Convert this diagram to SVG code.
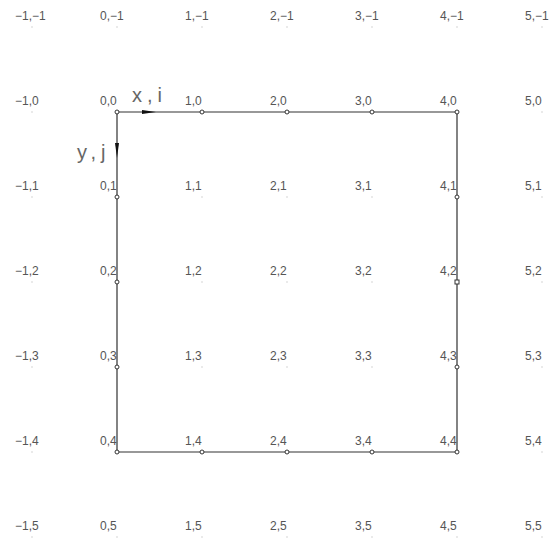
<svg xmlns="http://www.w3.org/2000/svg" width="550" height="540" viewBox="0 0 550 540">
<style>
.l{font-family:"Liberation Sans",Arial,sans-serif;font-size:12px;fill:#555}
.ax{font-family:"Liberation Sans",Arial,sans-serif;font-size:20px;fill:#666;letter-spacing:5px}
.d{fill:#aaa}
.c{fill:#fff;stroke:#333;stroke-width:1}
.e{fill:none;stroke:#333;stroke-width:1.2}
</style>
<defs>
<rect id="dot" class="d" x="-0.5" y="-0.5" width="1" height="1"/>
<circle id="cir" class="c" r="2"/>
</defs>
<rect width="550" height="540" fill="#fff"/>
<g id="connectors">
<path class="e" d="M117,112 H457 V452 H117 Z"/>
<path d="M142,110 L156,112 L142,114 Z" fill="#111"/>
<path d="M115,143 L117,158 L119,143 Z" fill="#111"/>
</g>
<text class="ax" x="132" y="102">x,i</text>
<text class="ax" x="77" y="159">y,j</text>
<g id="p-1_-1"><use href="#dot" x="32" y="27"/><text class="l" x="15" y="20">−1,−1</text></g>
<g id="p0_-1"><use href="#dot" x="117" y="27"/><text class="l" x="100" y="20">0,−1</text></g>
<g id="p1_-1"><use href="#dot" x="202" y="27"/><text class="l" x="185" y="20">1,−1</text></g>
<g id="p2_-1"><use href="#dot" x="287" y="27"/><text class="l" x="270" y="20">2,−1</text></g>
<g id="p3_-1"><use href="#dot" x="372" y="27"/><text class="l" x="355" y="20">3,−1</text></g>
<g id="p4_-1"><use href="#dot" x="457" y="27"/><text class="l" x="440" y="20">4,−1</text></g>
<g id="p5_-1"><use href="#dot" x="542" y="27"/><text class="l" x="525" y="20">5,−1</text></g>
<g id="p-1_0"><use href="#dot" x="32" y="112"/><text class="l" x="15" y="105">−1,0</text></g>
<g id="p0_0"><use href="#cir" x="117" y="112"/><text class="l" x="100" y="105">0,0</text></g>
<g id="p1_0"><use href="#cir" x="202" y="112"/><text class="l" x="185" y="105">1,0</text></g>
<g id="p2_0"><use href="#cir" x="287" y="112"/><text class="l" x="270" y="105">2,0</text></g>
<g id="p3_0"><use href="#cir" x="372" y="112"/><text class="l" x="355" y="105">3,0</text></g>
<g id="p4_0"><use href="#cir" x="457" y="112"/><text class="l" x="440" y="105">4,0</text></g>
<g id="p5_0"><use href="#dot" x="542" y="112"/><text class="l" x="525" y="105">5,0</text></g>
<g id="p-1_1"><use href="#dot" x="32" y="197"/><text class="l" x="15" y="190">−1,1</text></g>
<g id="p0_1"><use href="#cir" x="117" y="197"/><text class="l" x="100" y="190">0,1</text></g>
<g id="p1_1"><use href="#dot" x="202" y="197"/><text class="l" x="185" y="190">1,1</text></g>
<g id="p2_1"><use href="#dot" x="287" y="197"/><text class="l" x="270" y="190">2,1</text></g>
<g id="p3_1"><use href="#dot" x="372" y="197"/><text class="l" x="355" y="190">3,1</text></g>
<g id="p4_1"><use href="#cir" x="457" y="197"/><text class="l" x="440" y="190">4,1</text></g>
<g id="p5_1"><use href="#dot" x="542" y="197"/><text class="l" x="525" y="190">5,1</text></g>
<g id="p-1_2"><use href="#dot" x="32" y="282"/><text class="l" x="15" y="275">−1,2</text></g>
<g id="p0_2"><use href="#cir" x="117" y="282"/><text class="l" x="100" y="275">0,2</text></g>
<g id="p1_2"><use href="#dot" x="202" y="282"/><text class="l" x="185" y="275">1,2</text></g>
<g id="p2_2"><use href="#dot" x="287" y="282"/><text class="l" x="270" y="275">2,2</text></g>
<g id="p3_2"><use href="#dot" x="372" y="282"/><text class="l" x="355" y="275">3,2</text></g>
<g id="p4_2"><rect class="c" x="455" y="280" width="4" height="4"/><text class="l" x="440" y="275">4,2</text></g>
<g id="p5_2"><use href="#dot" x="542" y="282"/><text class="l" x="525" y="275">5,2</text></g>
<g id="p-1_3"><use href="#dot" x="32" y="367"/><text class="l" x="15" y="360">−1,3</text></g>
<g id="p0_3"><use href="#cir" x="117" y="367"/><text class="l" x="100" y="360">0,3</text></g>
<g id="p1_3"><use href="#dot" x="202" y="367"/><text class="l" x="185" y="360">1,3</text></g>
<g id="p2_3"><use href="#dot" x="287" y="367"/><text class="l" x="270" y="360">2,3</text></g>
<g id="p3_3"><use href="#dot" x="372" y="367"/><text class="l" x="355" y="360">3,3</text></g>
<g id="p4_3"><use href="#cir" x="457" y="367"/><text class="l" x="440" y="360">4,3</text></g>
<g id="p5_3"><use href="#dot" x="542" y="367"/><text class="l" x="525" y="360">5,3</text></g>
<g id="p-1_4"><use href="#dot" x="32" y="452"/><text class="l" x="15" y="445">−1,4</text></g>
<g id="p0_4"><use href="#cir" x="117" y="452"/><text class="l" x="100" y="445">0,4</text></g>
<g id="p1_4"><use href="#cir" x="202" y="452"/><text class="l" x="185" y="445">1,4</text></g>
<g id="p2_4"><use href="#cir" x="287" y="452"/><text class="l" x="270" y="445">2,4</text></g>
<g id="p3_4"><use href="#cir" x="372" y="452"/><text class="l" x="355" y="445">3,4</text></g>
<g id="p4_4"><use href="#cir" x="457" y="452"/><text class="l" x="440" y="445">4,4</text></g>
<g id="p5_4"><use href="#dot" x="542" y="452"/><text class="l" x="525" y="445">5,4</text></g>
<g id="p-1_5"><use href="#dot" x="32" y="537"/><text class="l" x="15" y="530">−1,5</text></g>
<g id="p0_5"><use href="#dot" x="117" y="537"/><text class="l" x="100" y="530">0,5</text></g>
<g id="p1_5"><use href="#dot" x="202" y="537"/><text class="l" x="185" y="530">1,5</text></g>
<g id="p2_5"><use href="#dot" x="287" y="537"/><text class="l" x="270" y="530">2,5</text></g>
<g id="p3_5"><use href="#dot" x="372" y="537"/><text class="l" x="355" y="530">3,5</text></g>
<g id="p4_5"><use href="#dot" x="457" y="537"/><text class="l" x="440" y="530">4,5</text></g>
<g id="p5_5"><use href="#dot" x="542" y="537"/><text class="l" x="525" y="530">5,5</text></g>
</svg>
